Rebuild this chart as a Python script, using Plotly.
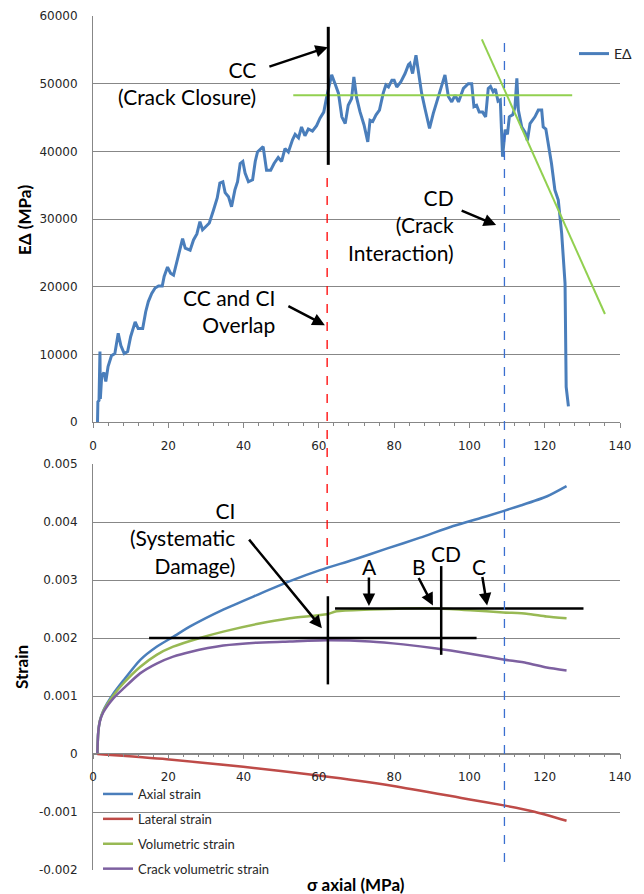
import plotly.graph_objects as go

W, H = 644, 894

# ---------------- data ----------------
# Top chart: E-delta modulus vs axial stress
ed_sigma = [1.2, 1.3, 1.6, 1.85, 1.95, 2.3, 2.9, 3.4, 4.0, 4.9, 5.8, 6.7, 7.4, 8.3, 9.2, 10.0,
            11.2, 12.0, 13.2, 14.0, 14.7, 15.6, 16.5, 17.4, 18.4, 18.9, 19.8, 20.6, 21.4, 22.2,
            23.1, 23.8, 24.5, 25.8, 26.7, 27.6, 28.4, 29.1, 30.0, 30.9, 32.0, 33.0, 33.7, 34.5,
            35.1, 36.0, 36.8, 37.7, 38.4, 39.1, 39.8, 40.4, 41.3, 42.4, 43.1, 43.7, 45.2, 46.1,
            47.2, 48.1, 49.2, 50.1, 51.0, 51.9, 53.0, 53.7, 54.6, 55.4, 56.3, 57.2, 58.3, 59.4,
            60.3, 61.3, 62.1, 63.4, 64.3, 65.2, 66.1, 67.0, 67.8, 68.7, 69.3, 70.0, 70.9, 72.0,
            73.0, 73.6, 74.3, 75.2, 76.1, 77.1, 77.8, 78.5, 79.4, 80.0, 80.7, 81.8, 82.9, 83.8,
            84.2, 84.9, 85.8, 86.5, 87.3, 88.2, 89.4, 90.4, 91.5, 92.4, 93.5, 94.4, 95.3, 96.2,
            97.1, 98.4, 99.7, 100.6, 101.2, 101.9, 102.6, 103.5, 104.3, 105.0, 105.6, 106.3,
            106.9, 107.6, 108.2, 108.8, 109.5, 110.1, 110.6, 111.5, 112.1, 112.6, 113.0, 113.9,
            114.8, 115.4, 116.1, 117.4, 118.3, 119.2, 119.6, 120.3, 121.0, 121.8, 122.7, 123.6,
            124.5, 125.4, 125.7, 126.3]
ed_modulus = [0, 3000, 3200, 10400, 3400, 6700, 7300, 6000, 8200, 9800, 10100, 13100, 11300,
              10100, 10400, 12600, 14800, 13800, 13800, 16300, 17800, 19000, 19800, 20100, 20100,
              21500, 22900, 22000, 21700, 23400, 25700, 27100, 25700, 25400, 26900, 27800, 29600,
              28400, 28900, 29400, 31300, 33100, 35300, 35500, 33900, 33300, 31800, 34300, 35500,
              38200, 38500, 36800, 35500, 35800, 38500, 39900, 40700, 37200, 37200, 38200, 39100,
              38500, 40400, 39900, 41700, 42500, 42000, 43600, 42300, 43300, 43000, 43800, 44900,
              45800, 48100, 51300, 50000, 48600, 45100, 44100, 46800, 47800, 51000, 48000, 45900,
              43900, 41400, 44600, 44400, 45400, 46100, 48600, 49800, 49500, 50500, 50500, 49500,
              50300, 51500, 52800, 53000, 51500, 54200, 51500, 48600, 46300, 43400, 45600, 47600,
              49000, 51300, 48100, 47300, 48300, 47300, 49300, 50000, 50000, 46600, 46800, 45800,
              45800, 45100, 49300, 49600, 48800, 49200, 47400, 47600, 39200, 43200, 42500, 45100,
              45400, 46500, 50800, 46100, 43600, 42800, 41600, 44100, 45100, 46100, 46100, 43600,
              43300, 41200, 38200, 34300, 32800, 27900, 20500, 5200, 2300]

# Bottom chart: strains vs axial stress
axial_sigma = [1.15, 1.4, 1.86, 2.75, 5.4, 8.1, 12.5, 16.9, 21.3, 25.8, 34.6, 43.5, 52.3, 60.3,
               69.2, 78.0, 86.9, 95.7, 104.6, 113.4, 120.5, 125.8]
axial_strain = [0, 0.00038, 0.00058, 0.00075, 0.00104, 0.00127, 0.00162, 0.00185, 0.00202,
                0.00220, 0.00249, 0.00274, 0.00298, 0.00317, 0.00335, 0.00354, 0.00373,
                0.00393, 0.00410, 0.00428, 0.00444, 0.00462]

lateral_sigma = [1.15, 19.6, 39.9, 59.9, 79.8, 99.7, 109.5, 117.0, 125.8]
lateral_strain = [0, -0.00009, -0.00022, -0.00037, -0.00055, -0.00078, -0.00089, -0.00099,
                  -0.00115]

vol_sigma = [1.15, 1.4, 1.86, 2.75, 5.4, 8.1, 12.5, 16.9, 21.3, 28.4, 34.6, 43.5, 52.3, 62.1,
             64.7, 73.6, 82.4, 91.3, 100.2, 109.0, 115.2, 120.5, 125.8]
vol_strain = [0, 0.00038, 0.00058, 0.00074, 0.00101, 0.00122, 0.00150, 0.00171, 0.00185,
              0.00200, 0.00211, 0.00224, 0.00234, 0.00241, 0.00246, 0.00249, 0.00251, 0.00251,
              0.00248, 0.00244, 0.00242, 0.00237, 0.00234]

crack_sigma = [1.15, 1.4, 1.86, 2.75, 5.4, 8.1, 12.5, 16.9, 21.3, 25.8, 34.6, 43.5, 52.3, 62.1,
               73.6, 82.4, 91.3, 100.2, 109.0, 115.2, 120.5, 125.8]
crack_strain = [0, 0.00038, 0.00057, 0.00072, 0.00096, 0.00113, 0.00139, 0.00156, 0.00168,
                0.00176, 0.00187, 0.00192, 0.00194, 0.00196, 0.00194, 0.00189, 0.00182,
                0.00173, 0.00163, 0.00157, 0.00149, 0.00144]

# Guide lines (data units)
green_flat_sigma = [53.2, 127.3]
green_flat_mod = [48300, 48300]
green_slope_sigma = [103.3, 136.0]
green_slope_mod = [56550, 15960]
cc_bar_sigma = [62.5, 62.5]
cc_bar_mod = [58400, 38000]

ci_h_sigma = [14.9, 101.9]
ci_h_strain = [0.0020, 0.0020]
ci_v_sigma = [62.4, 62.4]
ci_v_strain = [0.00272, 0.00120]
cd_h_sigma = [64.3, 130.3]
cd_h_strain = [0.00251, 0.00251]
cd_v_sigma = [92.5, 92.5]
cd_v_strain = [0.00324, 0.00171]

cc_ci_sigma = 62.2
cd_sigma = 109.3

# Tick labels
x_ticks = [0, 20, 40, 60, 80, 100, 120, 140]
x_tick_labels = ["0", "20", "40", "60", "80", "100", "120", "140"]
ed_ticks = [0, 10000, 20000, 30000, 40000, 50000, 60000]
ed_tick_labels = ["0", "10000", "20000", "30000", "40000", "50000", "60000"]
strain_ticks = [-0.002, -0.001, 0, 0.001, 0.002, 0.003, 0.004, 0.005]
strain_tick_labels = ["-0.002", "-0.001", "0", "0.001", "0.002", "0.003", "0.004", "0.005"]

# ---------------- styling ----------------
BLUE = "#4A7EBB"
RED = "#BE4B48"
GREEN = "#98B954"
PURPLE = "#7D60A0"
LGREEN = "#92D050"
GRID = "#878787"
TICKFONT = dict(family="DejaVu Sans", size=12, color="#262626")
ANNFONT = dict(family="Lato", size=21, color="black")


def px_x(p):
    return p / W


def px_y(p):
    return 1 - p / H


fig = go.Figure()

fig.add_trace(go.Scatter(x=ed_sigma, y=ed_modulus, mode="lines", name="EΔ",
                         line=dict(color=BLUE, width=3), xaxis="x", yaxis="y",
                         legend="legend"))
fig.add_trace(go.Scatter(x=green_flat_sigma, y=green_flat_mod, mode="lines", showlegend=False,
                         line=dict(color=LGREEN, width=2), xaxis="x", yaxis="y"))
fig.add_trace(go.Scatter(x=green_slope_sigma, y=green_slope_mod, mode="lines", showlegend=False,
                         line=dict(color=LGREEN, width=2), xaxis="x", yaxis="y"))
fig.add_trace(go.Scatter(x=cc_bar_sigma, y=cc_bar_mod, mode="lines", showlegend=False,
                         line=dict(color="black", width=3), xaxis="x", yaxis="y"))

for xs, ys, nm, col in [(axial_sigma, axial_strain, "Axial strain", BLUE),
                        (lateral_sigma, lateral_strain, "Lateral strain", RED),
                        (vol_sigma, vol_strain, "Volumetric strain", GREEN),
                        (crack_sigma, crack_strain, "Crack volumetric strain", PURPLE)]:
    fig.add_trace(go.Scatter(x=xs, y=ys, mode="lines", name=nm,
                             line=dict(color=col, width=2.5, shape="spline", smoothing=0.6),
                             xaxis="x2", yaxis="y2", legend="legend2", legendgroup=nm))

for xs, ys in [(ci_h_sigma, ci_h_strain), (ci_v_sigma, ci_v_strain),
               (cd_h_sigma, cd_h_strain), (cd_v_sigma, cd_v_strain)]:
    fig.add_trace(go.Scatter(x=xs, y=ys, mode="lines", showlegend=False,
                             line=dict(color="black", width=2.5), xaxis="x2", yaxis="y2"))

xdom = [px_x(93), px_x(620)]
axis_common = dict(range=[0, 140], tickvals=x_ticks, ticktext=x_tick_labels, tickfont=TICKFONT,
                   showline=True, linecolor=GRID, linewidth=1, showgrid=False, zeroline=False,
                   ticks="outside", ticklen=5, tickcolor=GRID,
                   minor=dict(dtick=4, ticks="outside", ticklen=3, tickcolor=GRID, showgrid=False),
                   ticklabelstandoff=8)

fig.update_layout(
    width=W, height=H, margin=dict(l=0, r=0, t=0, b=0, autoexpand=False),
    paper_bgcolor="white", plot_bgcolor="white",
    xaxis=dict(domain=xdom, anchor="y", **axis_common),
    yaxis=dict(domain=[px_y(422), px_y(16)], anchor="x", range=[0, 60000],
               tickvals=ed_ticks, ticktext=ed_tick_labels, tickfont=TICKFONT,
               showgrid=True, gridcolor=GRID, gridwidth=1, zeroline=False,
               showline=True, linecolor=GRID, ticks="", ticklabelstandoff=12),
    xaxis2=dict(domain=xdom, anchor="free", position=px_y(753), **axis_common),
    yaxis2=dict(domain=[px_y(870), px_y(464)], anchor="x2", range=[-0.002, 0.005],
                tickvals=strain_ticks, ticktext=strain_tick_labels, tickfont=TICKFONT,
                showgrid=True, gridcolor=GRID, gridwidth=1, zeroline=False,
                showline=True, linecolor=GRID, ticks="", ticklabelstandoff=12),
    legend=dict(x=px_x(574), y=px_y(38), xanchor="left", yanchor="top",
                font=dict(family="Lato", size=14, color="#262626"), bgcolor="rgba(0,0,0,0)"),
    legend2=dict(x=px_x(98), y=px_y(779), xanchor="left", yanchor="top",
                 font=dict(family="Lato", size=13, color="#262626"), tracegroupgap=5,
                 bgcolor="rgba(0,0,0,0)"),
    showlegend=True,
)

# Dashed vertical markers spanning both charts
fig.add_shape(type="line", xref="x", yref="paper", x0=cc_ci_sigma, x1=cc_ci_sigma,
              y0=px_y(583), y1=px_y(173), line=dict(color="#FF0000", width=1.3, dash="dash"))
fig.add_shape(type="line", xref="x", yref="paper", x0=cd_sigma, x1=cd_sigma,
              y0=px_y(862), y1=px_y(40), line=dict(color="#3A6FD0", width=1.3, dash="dash"))

# Axis titles
TITLEFONT = dict(family="Lato", size=17, color="black")
fig.add_annotation(text="<b>EΔ (MPa)</b>", xref="paper", yref="paper", x=px_x(25), y=px_y(220),
                   xanchor="center", yanchor="middle", textangle=-90, showarrow=False,
                   font=TITLEFONT)
fig.add_annotation(text="<b>Strain</b>", xref="paper", yref="paper", x=px_x(21), y=px_y(667),
                   xanchor="center", yanchor="middle", textangle=-90, showarrow=False,
                   font=TITLEFONT)
fig.add_annotation(text="<b>σ axial (MPa)</b>", xref="paper", yref="paper", x=px_x(356),
                   y=px_y(884), xanchor="center", yanchor="middle", showarrow=False,
                   font=TITLEFONT)

# Text labels
def label(text, xr, yc):
    fig.add_annotation(text=text, xref="paper", yref="paper", x=px_x(xr), y=px_y(yc),
                       xanchor="right", yanchor="middle", align="right", showarrow=False,
                       font=ANNFONT)

label("CC<br>(Crack Closure)", 258, 83)
label("CC and CI<br>Overlap", 277, 311)
label("CD<br>(Crack<br>Interaction)", 456, 225)
label("CI<br>(Systematic<br>Damage)", 237, 538)

def center_label(text, xc, yc):
    fig.add_annotation(text=text, xref="paper", yref="paper", x=px_x(xc), y=px_y(yc),
                       xanchor="center", yanchor="middle", showarrow=False, font=ANNFONT)

center_label("A", 369, 566)
center_label("B", 419, 566)
center_label("CD", 446, 553)
center_label("C", 479, 566)

# Arrows (heads in data units, tails as pixel offsets)
def arrow(x, y, ax, ay, xr="x", yr="y"):
    fig.add_annotation(x=x, y=y, xref=xr, yref=yr, ax=ax, ay=ay, text="", showarrow=True,
                       arrowhead=2, arrowsize=1, arrowwidth=2.5, arrowcolor="black")

arrow(62.4, 55400, -60, 20)
arrow(61.6, 14300, -38, -20)
arrow(107.1, 29100, -36, -15)
arrow(60.8, 0.00217, -74, -90, "x2", "y2")
arrow(73.3, 0.00255, 0, -30, "x2", "y2")
arrow(90.3, 0.00256, -15, -29, "x2", "y2")
arrow(104.7, 0.00256, -5, -30, "x2", "y2")

fig.write_html("out.html")
